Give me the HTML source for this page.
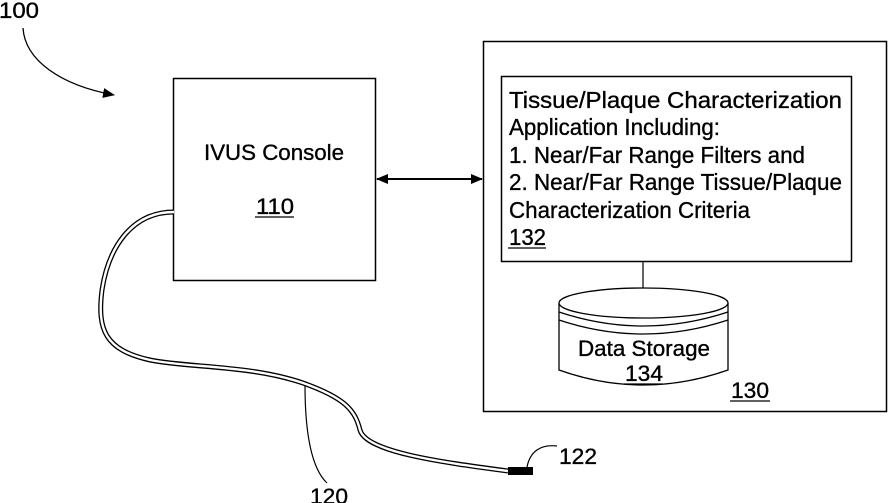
<!DOCTYPE html>
<html><head><style>
html,body{margin:0;padding:0;background:#fff;}
svg{display:block;}
text{font-family:"Liberation Sans",Arial,sans-serif;fill:#000;stroke:#000;stroke-width:0.35;}
</style></head><body>
<svg width="888" height="503" viewBox="0 0 888 503" xmlns="http://www.w3.org/2000/svg">
<defs>
<marker id="ah" markerWidth="12" markerHeight="10" refX="11" refY="5" orient="auto" markerUnits="userSpaceOnUse">
<path d="M0,0 L12,5 L0,10 Z" fill="#000"/></marker>
<marker id="as" markerWidth="12" markerHeight="10" refX="1" refY="5" orient="auto" markerUnits="userSpaceOnUse">
<path d="M12,0 L0,5 L12,10 Z" fill="#000"/></marker>
</defs>
<text x="-1" y="18" font-size="22" textLength="40" lengthAdjust="spacingAndGlyphs">100</text>
<path d="M23,28 C25,60 60,85 114,95" fill="none" stroke="#000" stroke-width="1.3" marker-end="url(#ah)"/>

<rect x="173.5" y="78.5" width="202" height="202" fill="#fff" stroke="#000" stroke-width="1.5"/>
<text x="204" y="160" font-size="22" textLength="140" lengthAdjust="spacingAndGlyphs">IVUS Console</text>
<text x="256" y="214" font-size="22" textLength="38" lengthAdjust="spacingAndGlyphs">110</text>
<line x1="255" y1="217" x2="294" y2="217" stroke="#000" stroke-width="1.3"/>

<line x1="377" y1="179" x2="482" y2="179" stroke="#000" stroke-width="2" marker-end="url(#ah)" marker-start="url(#as)"/>

<rect x="483.5" y="41.5" width="403" height="370" fill="#fff" stroke="#000" stroke-width="1.5"/>
<rect x="501.5" y="76.5" width="350" height="185" fill="#fff" stroke="#000" stroke-width="1.5"/>
<g font-size="23">
<text x="509" y="108" textLength="333" lengthAdjust="spacingAndGlyphs">Tissue/Plaque Characterization</text>
<text x="509" y="135" textLength="211" lengthAdjust="spacingAndGlyphs">Application Including:</text>
<text x="509" y="163" textLength="296" lengthAdjust="spacingAndGlyphs">1. Near/Far Range Filters and</text>
<text x="509" y="190" textLength="333" lengthAdjust="spacingAndGlyphs">2. Near/Far Range Tissue/Plaque</text>
<text x="509" y="218" textLength="241" lengthAdjust="spacingAndGlyphs">Characterization Criteria</text>
<text x="509" y="245" textLength="37" lengthAdjust="spacingAndGlyphs">132</text>
</g>
<line x1="508" y1="248" x2="546" y2="248" stroke="#000" stroke-width="1.3"/>
<line x1="643" y1="262" x2="643" y2="288" stroke="#000" stroke-width="1.2"/>

<path d="M559,303 L559,370 Q643,400 728,370 L728,303" fill="#fff" stroke="#000" stroke-width="1.3"/>
<ellipse cx="643.5" cy="303" rx="84.5" ry="15" fill="#fff" stroke="#000" stroke-width="1.3"/>
<path d="M559,312 Q643,340 728,312" fill="none" stroke="#000" stroke-width="1.2"/>
<path d="M559,320 Q643,348 728,320" fill="none" stroke="#000" stroke-width="1.2"/>
<text x="578" y="356" font-size="22" textLength="132" lengthAdjust="spacingAndGlyphs">Data Storage</text>
<text x="625" y="381" font-size="22" textLength="38" lengthAdjust="spacingAndGlyphs">134</text>
<line x1="624" y1="384" x2="663" y2="384" stroke="#000" stroke-width="1.3"/>
<text x="731" y="398" font-size="22" textLength="38" lengthAdjust="spacingAndGlyphs">130</text>
<line x1="730" y1="401" x2="770" y2="401" stroke="#000" stroke-width="1.3"/>

<path d="M174,212 C130,212 108,250 102,290 C97,330 105,350 150,360 C190,368 250,365 303,383 C345,398 355,410 360,430 C366,452 440,462 508,471" fill="none" stroke="#000" stroke-width="5"/>
<path d="M174,212 C130,212 108,250 102,290 C97,330 105,350 150,360 C190,368 250,365 303,383 C345,398 355,410 360,430 C366,452 440,462 508,471" fill="none" stroke="#fff" stroke-width="2.4"/>
<rect x="508" y="467" width="25" height="8" fill="#000"/>
<path d="M305,385 C305,420 308,465 327,483" fill="none" stroke="#000" stroke-width="1.2"/>
<text x="310" y="504" font-size="22" textLength="38" lengthAdjust="spacingAndGlyphs">120</text>
<path d="M527,467 C530,452 540,444 557,446" fill="none" stroke="#000" stroke-width="1.2"/>
<text x="559" y="464" font-size="22" textLength="38" lengthAdjust="spacingAndGlyphs">122</text>
</svg>
</body></html>
